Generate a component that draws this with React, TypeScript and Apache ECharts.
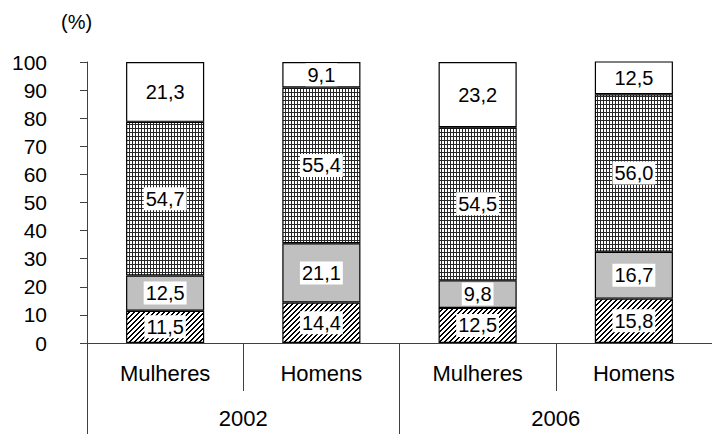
import React, { useEffect, useRef } from "react";
import * as echarts from "echarts";

const groups = ["Mulheres", "Homens", "Mulheres", "Homens"];
const years = ["2002", "2006"];
const yTicks = [0, 10, 20, 30, 40, 50, 60, 70, 80, 90, 100];
const seg1 = [11.5, 14.4, 12.5, 15.8];
const seg2 = [12.5, 21.1, 9.8, 16.7];
const seg3 = [54.7, 55.4, 54.5, 56.0];
const seg4 = [21.3, 9.1, 23.2, 12.5];

function makeCanvas(w: number, h: number, fn: (x: number, y: number) => number) {
  const c = document.createElement("canvas");
  c.width = w;
  c.height = h;
  const ctx = c.getContext("2d")!;
  const img = ctx.createImageData(w, h);
  for (let y = 0; y < h; y++) {
    for (let x = 0; x < w; x++) {
      const i = (y * w + x) * 4;
      const v = fn(x, y);
      img.data[i] = v;
      img.data[i + 1] = v;
      img.data[i + 2] = v;
      img.data[i + 3] = 255;
    }
  }
  ctx.putImageData(img, 0, 0);
  return c;
}

export default function App() {
  const ref = useRef<HTMLDivElement>(null);
  useEffect(() => {
    if (!ref.current) return;
    const chart = echarts.init(ref.current, undefined, { renderer: "svg" });
    const hatch = makeCanvas(5, 5, (x, y) => ((x + y) % 5 < 2 ? 0 : 255));
    const grid = makeCanvas(3, 4, (x, y) => (x === 0 || y === 0 ? 40 : 255));
    const font = "Liberation Sans, Arial, sans-serif";
    const label = {
      show: true,
      position: "inside" as const,
      color: "#000",
      fontSize: 20,
      fontFamily: font,
      backgroundColor: "#fff",
      padding: [2, 2, 1, 2],
      formatter: (p: any) => Number(p.value).toFixed(1).replace(".", ","),
    };
    const mk = (name: string, data: number[], color: any) => ({
      name,
      type: "bar",
      stack: "total",
      data,
      barWidth: "50%",
      itemStyle: { color, borderColor: "#000", borderWidth: 1.2 },
      label,
      emphasis: { disabled: true },
    });
    chart.setOption({
      animation: false,
      grid: { left: 87, top: 62, bottom: 91, right: -9, containLabel: false },
      graphic: [
        {
          type: "text",
          left: 61,
          top: 12,
          style: { text: "(%)", fontSize: 20, fontFamily: font, fill: "#000" },
        },
      ],
      xAxis: [
        {
          type: "category",
          data: groups,
          position: "bottom",
          axisLine: { show: true, lineStyle: { color: "#404040", width: 1 } },
          axisTick: { show: true, interval: 0, length: 48, lineStyle: { color: "#404040" } },
          axisLabel: { interval: 0, margin: 19, fontSize: 22, fontFamily: font, color: "#000" },
        },
        {
          type: "category",
          data: years,
          position: "bottom",
          axisLine: { show: false },
          axisTick: { show: true, interval: 0, length: 91, lineStyle: { color: "#404040" } },
          axisLabel: { interval: 0, margin: 64, fontSize: 22, fontFamily: font, color: "#000" },
        },
      ],
      yAxis: {
        type: "value",
        min: yTicks[0],
        max: yTicks[yTicks.length - 1],
        interval: 10,
        axisLine: { show: true, lineStyle: { color: "#404040", width: 1 } },
        axisTick: { show: true, length: 7, lineStyle: { color: "#404040" } },
        splitLine: { show: false },
        axisLabel: { margin: 40, fontSize: 21, fontFamily: font, color: "#000" },
      },
      series: [
        mk("s1", seg1, { image: hatch, repeat: "repeat" }),
        mk("s2", seg2, "#c0c0c0"),
        mk("s3", seg3, { image: grid, repeat: "repeat" }),
        mk("s4", seg4, "#ffffff"),
      ],
    });
    return () => chart.dispose();
  }, []);
  return (
    <div
      ref={ref}
      style={{ position: "fixed", left: 0, top: 0, width: 712, height: 434, background: "#fff" }}
    />
  );
}
